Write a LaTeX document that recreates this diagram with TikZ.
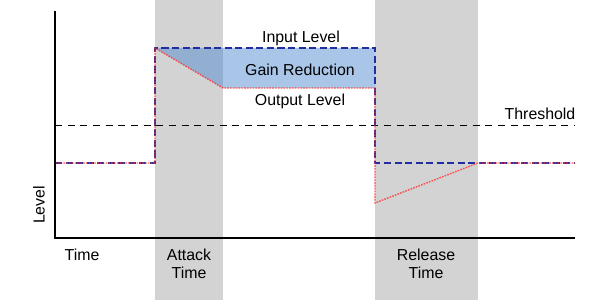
\documentclass[tikz,border=0pt]{standalone}
\usepackage{fontspec}
\setmainfont{Liberation Sans}
\usepackage{tikz}
\usetikzlibrary{positioning, calc}
\definecolor{bandgray}{RGB}{211,211,211}
\definecolor{gainblue}{RGB}{83,141,209}
\definecolor{inblue}{RGB}{35,45,160}
\definecolor{outred}{RGB}{255,50,50}
\tikzset{
  band/.style={fill=bandgray, draw=none},
  axis/.style={line width=0.9pt, color=black},
  thresh/.style={dashed, dash pattern=on 5pt off 4pt, line width=0.6pt, color=black},
  inlevel/.style={dash pattern=on 5pt off 2.5pt, line width=0.8pt, color=inblue},
  outlevel/.style={dash pattern=on 1.2pt off 0.8pt, line width=1pt, color=outred, opacity=0.8},
  gain/.style={fill=gainblue, fill opacity=0.5, draw=none},
  lbl/.style={font=\fontsize{11.3}{13}\selectfont, inner sep=0pt, align=center}
}

\begin{document}
\begin{tikzpicture}[x=0.025cm, y=-0.025cm]
  \useasboundingbox (0,0) rectangle (600,300);

  % Attack and release bands
  \fill[band] (155,0) rectangle (223,300);
  \fill[band] (375,0) rectangle (478,300);

  % Level points
  \coordinate (start) at (55,163);
  \coordinate (atk0) at (155,163);
  \coordinate (atk1) at (155,48);
  \coordinate (atk2) at (223,88);
  \coordinate (rel0) at (375,48);
  \coordinate (rel1) at (375,88);
  \coordinate (rel2) at (375,163);
  \coordinate (rel3) at (375,203);
  \coordinate (rel4) at (478,163);
  \coordinate (stop) at (575,163);

  % Gain reduction area
  \fill[gain] (atk1) -- (rel0) -- (rel1) -- (atk2) -- cycle;

  % Threshold
  \coordinate (th0) at (55,125);
  \coordinate (th1) at (575,125);
  \draw[thresh] (th0) -- (th1);

  % Input level
  \draw[inlevel] (start) -- (atk0) -- (atk1) -- (rel0) -- (rel2) -- (stop);

  % Output level
  \draw[outlevel] (start) -- (atk0) -- (atk1) -- (atk2) -- (rel1) -- (rel3) -- (rel4) -- (stop);

  % Axes
  \coordinate (origin) at (55,238);
  \coordinate (ytop) at (55,11);
  \coordinate (xend) at (575,238);
  \draw[axis] (ytop) -- (origin) -- (xend);

  % Labels
  \node[lbl] (inlbl) at (301,38) {Input Level};
  \node[lbl] (gainlbl) at (300,70) {Gain Reduction};
  \node[lbl] (outlbl) at (300,101) {Output Level};
  \node[lbl] (thlbl) at (540,114) {Threshold};
  \node[lbl] (timelbl) at (82,255) {Time};
  \node[lbl] (atklbl) at (189,264) {Attack\\Time};
  \node[lbl] (rellbl) at (426,264) {Release\\Time};
  \node[lbl, rotate=90] (levellbl) at (39,205) {Level};
\end{tikzpicture}
\end{document}
